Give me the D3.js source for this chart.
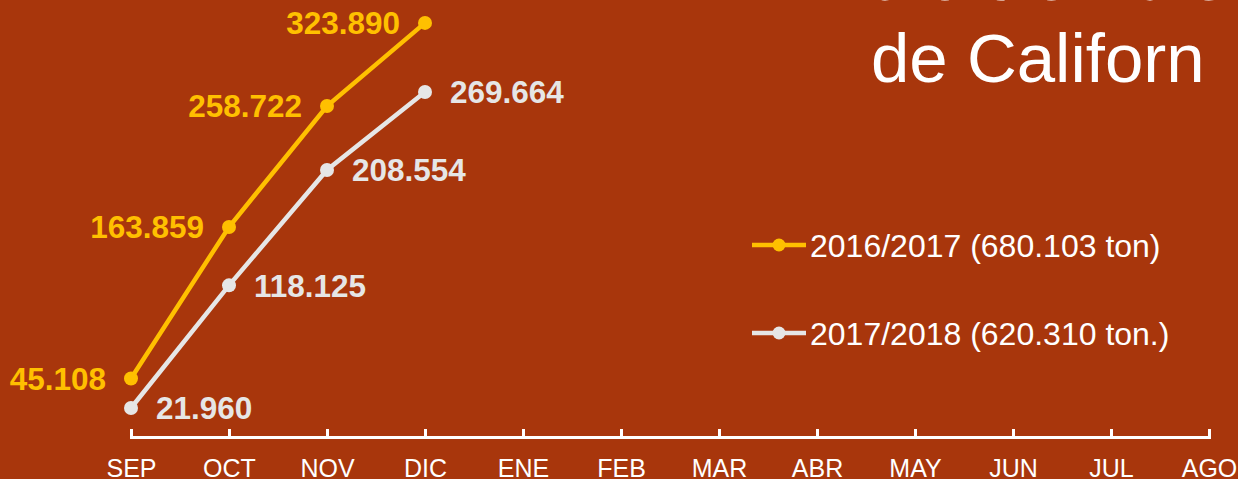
<!DOCTYPE html>
<html>
<head>
<meta charset="utf-8">
<script src="https://cdn.jsdelivr.net/npm/d3@7"></script>
<style>
  html, body { margin: 0; padding: 0; background: #A8360C; overflow: hidden; }
  text { font-family: "Liberation Sans", Arial, sans-serif; }
</style>
</head>
<body>
<div id="chart"></div>
<script>
// months of the campaign (sep -> ago)
const months = ["SEP", "OCT", "NOV", "DIC", "ENE", "FEB", "MAR", "ABR", "MAY", "JUN", "JUL", "AGO"];
// accumulated tonnes, only first four months available
const serie1617 = [45108, 163859, 258722, 323890];
const serie1718 = [21960, 118125, 208554, 269664];
const seriesNames = ["2016/2017 (680.103 ton)", "2017/2018 (620.310 ton.)"];
const titleLines = ["a diciembre", "de Californ"];

const settings = {
  width: 1238,
  height: 479,
  bg: "#A8360C",
  yellow: "#FFC000",
  grey: "#E6E6E6",
  id: "#chart",
};

const fmt = d3.formatLocale({ decimal: ",", thousands: ".", grouping: [3], currency: ["", ""] }).format(",d");

const svg = d3.create("svg")
  .attr("width", settings.width)
  .attr("height", settings.height)
  .attr("viewBox", [0, 0, settings.width, settings.height]);

svg.append("rect")
  .attr("width", settings.width)
  .attr("height", settings.height)
  .attr("fill", settings.bg);

const xScale = d3.scalePoint(months, [131, 1209]);
const yScale = d3.scaleLinear([0, 350000], [436, 436 - 350 * 1.2755]);

// axis, ticks pointing up
const xAxis = d3.axisBottom(xScale).tickSize(-8).tickSizeOuter(-8).tickPadding(22);
const gx = svg.append("g")
  .attr("transform", "translate(0,437)")
  .call(xAxis);
gx.select(".domain").attr("stroke", "#fff").attr("stroke-width", 3);
gx.selectAll(".tick line").attr("stroke", "#fff").attr("stroke-width", 3);
gx.selectAll(".tick text")
  .attr("fill", "#fff")
  .attr("font-size", 25)
  .attr("font-family", "Liberation Sans, Arial, sans-serif");

// title (cut off by frame)
svg.append("g").selectAll("text")
  .data(titleLines)
  .join("text")
  .attr("x", 871)
  .attr("y", (d, i) => 0 + i * 82)
  .attr("fill", "#fff")
  .attr("font-size", 69)
  .text(d => d);

const series = [
  { name: seriesNames[0], values: serie1617, color: settings.yellow, side: "left" },
  { name: seriesNames[1], values: serie1718, color: settings.grey, side: "right" },
];

const line = d3.line()
  .x((d, i) => xScale(months[i]))
  .y(d => yScale(d));

series.forEach(s => {
  const g = svg.append("g");
  g.append("path")
    .attr("fill", "none")
    .attr("stroke", s.color)
    .attr("stroke-width", 4.5)
    .attr("d", line(s.values));
  g.selectAll("circle")
    .data(s.values)
    .join("circle")
    .attr("cx", (d, i) => xScale(months[i]))
    .attr("cy", d => yScale(d))
    .attr("r", 7)
    .attr("fill", s.color);
  g.selectAll("text")
    .data(s.values)
    .join("text")
    .attr("x", (d, i) => xScale(months[i]) + (s.side === "left" ? -25 : 25))
    .attr("y", d => yScale(d))
    .attr("dy", "0.36em")
    .attr("text-anchor", s.side === "left" ? "end" : "start")
    .attr("font-size", 31.5)
    .attr("font-weight", "bold")
    .attr("fill", s.color)
    .text(d => fmt(d));
});

// legend
const legend = svg.append("g").selectAll("g")
  .data(series)
  .join("g")
  .attr("transform", (d, i) => `translate(752,${245 + i * 88})`);
legend.append("line")
  .attr("x1", 0).attr("x2", 54)
  .attr("stroke", d => d.color)
  .attr("stroke-width", 4.5);
legend.append("circle")
  .attr("cx", 27)
  .attr("r", 6.5)
  .attr("fill", d => d.color);
legend.append("text")
  .attr("x", 58)
  .attr("dy", "0.36em")
  .attr("fill", "#fff")
  .attr("font-size", 32)
  .text(d => d.name);

d3.select(settings.id).node().append(svg.node());
</script>
</body>
</html>
